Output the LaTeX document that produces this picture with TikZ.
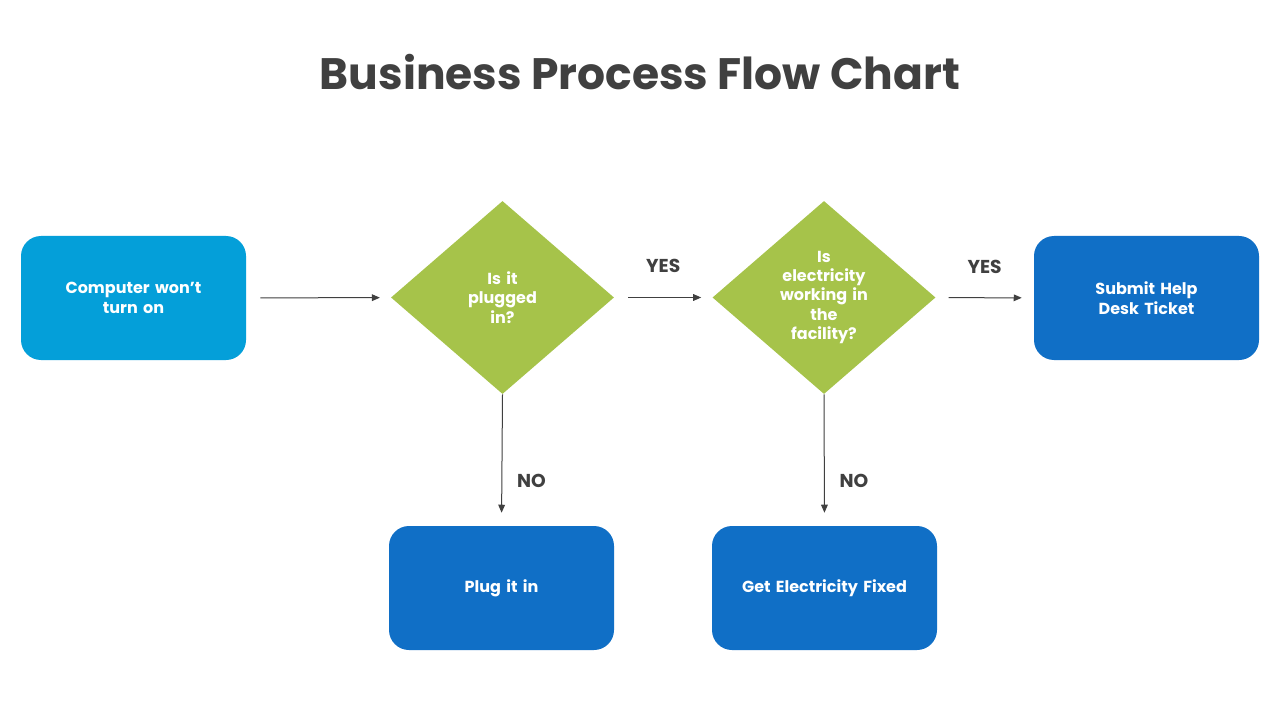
\documentclass[tikz,border=0pt]{standalone}
\usepackage{fontspec}
\setmainfont{Poppins}
\usetikzlibrary{shapes.geometric,arrows.meta}

\definecolor{titlegray}{HTML}{404040}
\definecolor{startblue}{HTML}{049FD9}
\definecolor{boxblue}{HTML}{106FC6}
\definecolor{decgreen}{HTML}{A6C34A}

\tikzset{
  procbox/.style={rectangle, rounded corners=15pt, minimum width=168.75pt,
    minimum height=93pt, text width=150pt, align=center, text=white,
    font=\bfseries\fontsize{12}{14.5}\selectfont},
  decision/.style={diamond, aspect=1.15, fill=decgreen, inner sep=0pt,
    minimum width=167.25pt, minimum height=144.75pt, text width=80pt,
    align=center, text=white, font=\bfseries\fontsize{12}{14.5}\selectfont},
  flowarrow/.style={draw=titlegray, line width=0.75pt,
    -{Triangle[length=6pt,width=5pt]}},
  flowlabel/.style={inner sep=0pt, text=titlegray,
    font=\bfseries\fontsize{14}{16}\selectfont}
}

\begin{document}
\begin{tikzpicture}[x=0.75pt,y=-0.75pt]
\useasboundingbox[fill=white] (0,0) rectangle (1280,720);

\node[text=titlegray, font=\bfseries\fontsize{33}{38}\selectfont] (title) at (640,72) {Business Process Flow Chart};

% top row
\node[procbox, fill=startblue] (start) at (133.5,298) {Computer won't\\turn on};
\node[decision] (plugged) at (502.5,297.5) {Is it\\plugged\\in?};
\node[decision] (power) at (824,297.5) {Is\\electricity\\working in\\the\\facility?};
\node[procbox, fill=boxblue] (ticket) at (1146.5,298) {Submit Help\\Desk Ticket};

% bottom row
\node[procbox, fill=boxblue] (plugin) at (501.5,588) {Plug it in};
\node[procbox, fill=boxblue] (fixpower) at (824.5,588) {Get Electricity Fixed};

% connectors
\draw[flowarrow, shorten <=10.5pt, shorten >=8.25pt] (start) -- (plugged);
\draw[flowarrow, shorten <=10.5pt, shorten >=8.25pt] (plugged) -- (power)
  node[flowlabel, midway, above=18pt] {YES};
\draw[flowarrow, shorten <=9.75pt, shorten >=9pt] (power) -- (ticket)
  node[flowlabel, midway, above=18pt] {YES};
\draw[flowarrow, shorten >=9.75pt] (plugged.south) -- (plugin.north)
  node[flowlabel, pos=0.66, right=11pt] {NO};
\draw[flowarrow, shorten >=9.75pt] (power.south) -- (fixpower.north)
  node[flowlabel, pos=0.66, right=11pt] {NO};
\end{tikzpicture}
\end{document}
